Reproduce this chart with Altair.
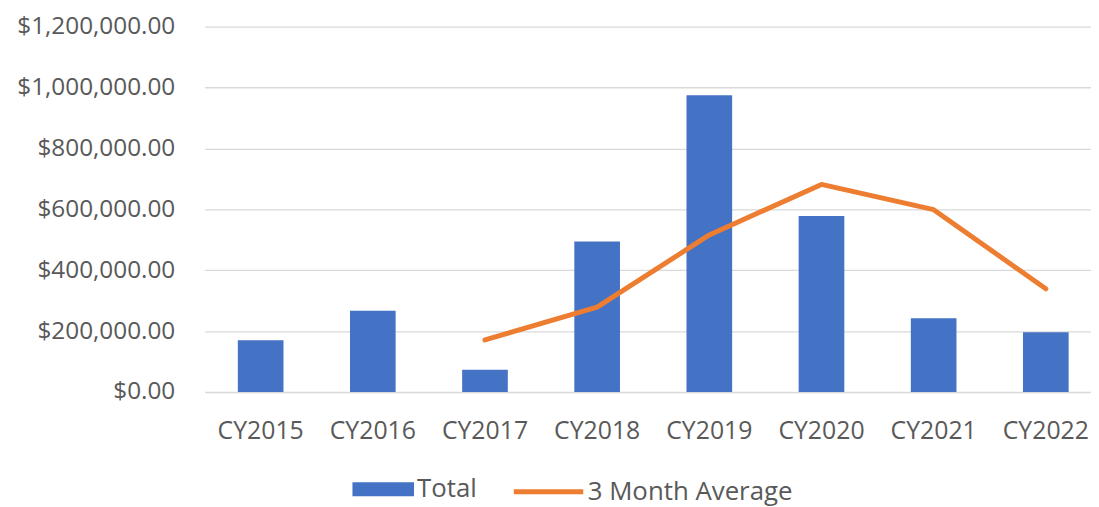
import altair as alt
import pandas as pd

years = ["CY2015", "CY2016", "CY2017", "CY2018", "CY2019", "CY2020", "CY2021", "CY2022"]
totals = [170000, 267000, 73000, 494000, 975000, 578000, 242000, 196000]
avg_years = ["CY2017", "CY2018", "CY2019", "CY2020", "CY2021", "CY2022"]
avg_values = [171000, 279000, 516000, 682000, 599000, 339000]
y_ticks = [0, 200000, 400000, 600000, 800000, 1000000, 1200000]

FONT = "Open Sans"
GRAY = "#595959"

df_bar = pd.DataFrame({"year": years, "value": totals, "series": ["Total"] * len(years)})
df_line = pd.DataFrame({"year": avg_years, "value": avg_values,
                        "series": ["3 Month Average"] * len(avg_years)})

x_enc = alt.X(
    "year:N",
    sort=years,
    scale=alt.Scale(domain=years, paddingInner=0.593, paddingOuter=0.248, align=0.598),
    axis=alt.Axis(title=None, labelAngle=0, domain=False, ticks=False,
                  labelFont=FONT, labelFontSize=25, labelColor=GRAY, labelPadding=27),
)
y_enc = alt.Y(
    "value:Q",
    scale=alt.Scale(domain=[0, 1200000], nice=False),
    axis=alt.Axis(title=None, values=y_ticks, format="$,.2f", grid=True,
                  gridColor="#d9d9d9", gridWidth=1.3, domain=False, ticks=False,
                  labelFont=FONT, labelFontSize=24.5, labelColor=GRAY, labelPadding=30),
)

bars = alt.Chart(df_bar).mark_bar().encode(
    x=x_enc,
    y=y_enc,
    color=alt.Color(
        "series:N",
        scale=alt.Scale(domain=["Total"], range=["#4472C4"]),
        legend=alt.Legend(title=None, orient="none", legendX=149, legendY=435,
                          symbolType="M-1,-0.226H1V0.226H-1Z", symbolSize=3844,
                          symbolStrokeWidth=0, symbolOpacity=1,
                          labelFont=FONT, labelFontSize=26, labelColor=GRAY,
                          labelOffset=3, labelLimit=600, padding=0),
    ),
)

line = alt.Chart(df_line).mark_line(strokeWidth=5, strokeCap="round", strokeJoin="round").encode(
    x=x_enc,
    y=y_enc,
    color=alt.Color(
        "series:N",
        scale=alt.Scale(domain=["3 Month Average"], range=["#ED7D31"]),
        legend=alt.Legend(title=None, orient="none", legendX=309, legendY=431,
                          symbolType="stroke", symbolSize=4900, symbolStrokeWidth=5,
                          labelFont=FONT, labelFontSize=26, labelColor=GRAY,
                          labelOffset=2, labelLimit=600, padding=0),
    ),
)

chart = alt.layer(bars, line).resolve_scale(color="independent").properties(
    width=893,
    height=368,
    padding={"left": 198, "top": 17, "right": 0, "bottom": 114},
    autosize=alt.AutoSizeParams(type="none"),
    background="white",
).configure_view(stroke=None)

chart.save("out.html", embed_options={"renderer": "svg", "actions": False})
